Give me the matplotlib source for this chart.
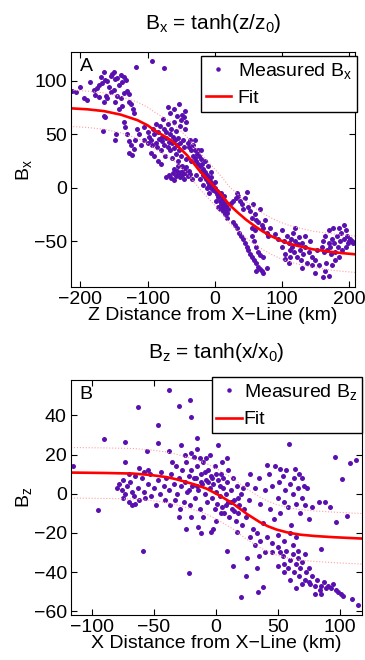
import numpy as np
import matplotlib
matplotlib.use('Agg')
import matplotlib.pyplot as plt

# ----------------------------------------------------------------------- >>>>>
#   data
# ----------------------------------------------------------------------- >>>>>

# panel A : measured Bx vs Z distance (km)
bx_points = [
    # upper left cluster
    (-212, 91), (-207, 90), (-200, 94), (-195, 84), (-190, 82), (-185, 99), (-180, 92),
    (-176, 93), (-172, 96), (-170, 104), (-168, 98), (-165, 108), (-163, 101), (-160, 100),
    (-158, 94), (-155, 105), (-153, 107), (-150, 108), (-148, 102), (-145, 103), (-143, 96),
    (-140, 106), (-138, 99), (-135, 104), (-132, 101), (-130, 91), (-128, 88), (-172, 85),
    (-162, 86), (-155, 90), (-150, 92), (-146, 86), (-140, 84), (-135, 89), (-128, 80),
    (-125, 78), (-122, 74), (-120, 70), (-138, 77), (-142, 74), (-148, 80), (-160, 84),
    (-165, 80), (-178, 87), (-93, 119), (-75, 112), (-117, 113),
    (-165, 67), (-164, 66), (-167, 53), (-147, 50), (-148, 45), (-135, 62), (-133, 57),
    (-130, 50), (-128, 44), (-125, 40), (-127, 33), (-123, 31), (-120, 36), (-118, 45),
    (-115, 55), (-112, 50), (-110, 40), (-105, 57), (-100, 52),
    # dense cluster
    (-98, 48), (-95, 45), (-93, 40), (-92, 55), (-90, 50), (-88, 42), (-86, 38), (-85, 52),
    (-83, 46), (-82, 58), (-80, 35), (-79, 48), (-78, 44), (-76, 55), (-75, 40), (-74, 30),
    (-73, 52), (-72, 47), (-70, 38), (-69, 60), (-68, 43), (-67, 50), (-66, 35), (-65, 55),
    (-64, 42), (-63, 28), (-62, 48), (-61, 37), (-60, 62), (-59, 45), (-58, 32), (-57, 53),
    (-56, 40), (-55, 25), (-54, 47), (-53, 35), (-52, 58), (-51, 42), (-50, 30), (-49, 68),
    (-48, 20), (-47, 45), (-46, 66), (-45, 38), (-44, 55), (-43, 27), (-90, 30), (-85, 25),
    (-80, 22), (-95, 33), (-100, 42), (-105, 45), (-88, 60), (-77, 64), (-70, 76), (-66, 70),
    (-60, 74), (-56, 67), (-53, 78), (-50, 63), (-44, 72), (-42, 62),
    (-68, 12), (-65, 9), (-62, 14), (-60, 18), (-58, 11), (-56, 16), (-54, 13), (-52, 10),
    (-50, 15), (-48, 12), (-46, 17), (-44, 14), (-42, 19), (-40, 11), (-38, 16), (-36, 13),
    (-34, 8), (-60, 7), (-72, 10), (-55, 20), (-45, 8),
    # steep band through the centre
    (-40, 42), (-38, 38), (-36, 45), (-35, 35), (-33, 30), (-32, 40), (-30, 28), (-29, 35),
    (-28, 25), (-27, 32), (-25, 22), (-24, 30), (-22, 20), (-21, 27), (-20, 16), (-19, 22),
    (-18, 12), (-17, 18), (-15, 10), (-14, 15), (-13, 8), (-12, 12), (-10, 5), (-9, 9),
    (-8, 3), (-7, 6), (-5, 0), (-4, 4), (-3, -2), (-2, 2), (0, -3), (1, 0), (3, -6), (4, -3),
    (5, -9), (6, -5), (8, -12), (9, -8), (10, -15), (11, -11), (13, -18), (14, -14),
    (15, -21), (17, -17), (18, -24), (20, -20), (-25, 35), (-30, 45), (-35, 25), (-20, 35),
    (-15, 25), (-10, 20), (-5, 15), (-22, 8), (-18, 3), (-12, 0), (-8, -5), (-28, 12),
    (-6, 10), (0, 5), (2, -12), (5, -18), (8, -20), (12, -22), (16, -25), (19, -28),
    (10, -5), (14, -8),
    # right of centre
    (25, -14), (28, -12), (32, -10), (35, -8), (33, -5), (38, -12), (40, -15), (42, -20),
    (45, -10), (48, -4), (50, -18), (52, -22), (55, -28), (57, -15), (60, -25), (62, -30),
    (65, -32), (68, -20), (70, -35), (72, -38), (75, -30), (78, -42), (80, -45), (82, -38),
    (60, -40), (55, -38),
    (27, -32), (30, -35), (33, -38), (36, -42), (39, -45), (42, -48), (45, -52), (48, -55),
    (50, -58), (53, -62), (56, -65), (58, -68), (61, -70), (64, -74), (67, -76), (70, -78),
    (72, -80), (55, -45), (58, -50), (62, -55), (65, -60), (68, -63), (72, -65), (78, -75),
    (62, -78),
    (95, -48), (100, -55), (103, -50), (105, -62), (108, -45), (110, -52), (112, -58),
    (114, -48), (115, -55), (117, -42), (118, -60), (120, -50), (122, -65), (124, -53),
    (125, -46), (127, -58), (128, -68), (130, -52), (132, -62), (134, -55), (135, -45),
    (137, -70), (140, -60), (142, -50), (145, -65), (150, -68), (152, -58), (155, -72),
    (105, -67), (110, -70), (100, -40), (90, -43), (120, -38), (145, -72), (130, -75),
    (112, -65),
    (160, -55), (162, -50), (163, -60), (165, -45), (166, -70), (168, -58), (170, -40),
    (172, -55), (174, -62), (175, -48), (177, -38), (178, -52), (180, -60), (182, -45),
    (184, -55), (185, -65), (187, -50), (188, -42), (190, -58), (192, -35), (193, -48),
    (195, -55), (197, -45), (199, -52), (200, -50), (202, -48), (204, -50), (206, -52),
    (162, -84), (170, -83), (165, -78), (150, -80), (175, -72), (180, -68), (195, -40),
    (185, -38), (170, -52),
]

fit_z = [-215, -190, -165, -140, -115, -100, -90, -78, -65, -53, -41, -32, -23, -13, -3,
         10, 22, 35, 47, 60, 72, 85, 97, 110, 121, 135, 146, 160, 171, 190, 210]
fit_bx = [74.4, 73.5, 71.8, 68.5, 63.3, 58.5, 54, 49.5, 44.5, 37.8, 30.4, 23.5, 16.3, 9.5,
          2.8, -6.5, -16, -23.5, -30, -36, -41, -45.5, -49, -52, -54, -56, -57.6, -58.8,
          -59.8, -61.2, -62.3]
fit_bx_hi = [91.4, 90.5, 88.8, 85.5, 80.3, 75.5, 71, 66.5, 61.5, 54.8, 47.4, 40.5, 33.3,
             26.5, 19.8, 10.5, 1, -6.5, -13, -19, -24, -28.5, -32, -35, -37, -39, -40.6,
             -41.8, -42.8, -44.2, -45.3]
fit_bx_lo = [57.4, 56.5, 54.8, 51.5, 46.3, 41.5, 37, 32.5, 27.5, 20.8, 13.4, 6.5, -0.7,
             -7.5, -14.2, -23.5, -33, -40.5, -47, -53, -58, -62.5, -66, -69, -71, -73,
             -74.6, -75.8, -76.8, -78.2, -79.3]

# panel B : measured Bz vs X distance (km)
bz_points = [
    (-115, 14), (-90, 28), (-95, -8.5), (-73, 26.5), (-73, 16), (-63, 44.4), (-62, 13),
    (-59, -29), (-56, 22), (-46.5, 26), (-47, 35), (-37.6, 53), (-38, 22), (-30, 45),
    (-28, 25), (-21, 48), (-20, 39), (-21.5, -40.7), (-15.6, 28.7), (-13, 18.5),
    (-4.3, -19.7), (2, 24.8), (9.4, 18), (9.4, -29), (14, -36.8), (17.5, -19.7),
    (20.7, -53), (24.7, -41.9), (25.5, -33), (34, -50.4), (33.6, -38), (38, -47.5),
    (41, 14.5), (51.6, 12.8), (58.9, 25.6), (63.7, 12.8), (96, 18.8), (102, 7.7),
    (108, 15.7), (113, 17), (97, -14.5), (106, -11.5), (115, -56.8), (110, -54),
    # left cluster
    (-78, 5), (-76, 2), (-75, -2), (-73, 0), (-72, 4), (-70, -4), (-69, 6), (-68, 1),
    (-66, -1), (-65, -5), (-63, 3), (-62, -3), (-60, 8), (-58, 1), (-57, -2), (-55, 5),
    (-53, 10), (-52, -1), (-50, 3), (-48, -6), (-47, 7), (-45, 0), (-44, 11), (-42, 4),
    (-41, -3), (-40, 8), (-70, 10), (-65, 9), (-58, 11), (-75, 7), (-80, 3), (-68, -6),
    (-55, 12),
    # central cluster
    (-38, 2), (-37, -6), (-36, 10), (-35, 16), (-34, 5), (-33, -3), (-32, 14), (-31, 0),
    (-30, 8), (-29, -8), (-28, 4), (-27, 12), (-26, -4), (-25, 6), (-24, 16), (-23, 1),
    (-22, 9), (-21, -6), (-20, 12), (-19, 4), (-18, 19), (-17, -2), (-16, 8), (-15, 14),
    (-14, 2), (-13, -8), (-12, 10), (-11, 5), (-10, 16), (-9, 0), (-8, 7), (-7, -4),
    (-6, 12), (-5, 3), (-4, 9), (-3, -2), (-2, 5), (-1, 14), (0, 1), (1, -5), (2, 7),
    (3, -1), (4, 10), (5, -7), (6, 3), (7, -10), (8, 0), (9, 6), (10, -4), (11, -12),
    (12, 2), (13, -8), (14, 8), (15, -3), (16, -14), (17, 4), (18, -10), (19, -6), (20, 0),
    (21, -16), (22, 3), (23, -8), (24, -12), (-20, -12), (-10, -12), (0, -14), (-30, -12),
    (-24, -18), (-14, -17), (5, 16), (10, 12), (-5, 20), (-8, 18), (-15, 23), (-20, 21),
    (-25, 20), (-12, -20), (-2, -18),
    (-6, 6), (-3, 8), (0, 10), (3, 4), (6, 8), (-9, 11), (-12, 6), (-15, 4), (8, -6),
    (12, -4), (15, -9), (18, -2), (-1, -8), (4, -10), (-18, 8), (-22, 2),
    # middle right
    (25, 5), (27, -3), (28, 10), (30, -18), (32, 3), (33, -20), (35, 8), (36, -5),
    (38, -15), (40, 2), (41, -22), (43, 10), (44, -8), (45, 4), (47, -13), (48, 14),
    (50, -2), (51, 6), (52, -10), (54, 9), (55, -4), (56, 2), (57, 12), (58, -7), (60, 5),
    (61, -16), (62, 0), (63, 8), (65, -5), (66, 3), (67, 10), (68, -10), (70, -2), (71, 4),
    (72, -6), (74, 3), (75, -13), (60, -20), (50, -21), (45, -25), (55, -24), (65, -22),
    (70, 8), (78, -7), (83, -4), (85, -28), (88, -4), (92, -7),
    # lower band
    (50, -27), (52, -30), (54, -32), (55, -36), (57, -29), (58, -38), (60, -34), (62, -31),
    (63, -40), (65, -36), (66, -33), (67, -42), (68, -38), (70, -35), (72, -44), (73, -40),
    (75, -38), (76, -46), (78, -42), (80, -47), (82, -44), (84, -49), (85, -51), (87, -45),
    (89, -48), (91, -47), (93, -48), (95, -46), (97, -49), (99, -50), (101, -51),
    (103, -52), (55, -40), (60, -44), (65, -48), (70, -46), (75, -45), (80, -51), (85, -47),
    (50, -37), (45, -30), (62, -26), (66, -29), (72, -31), (28, -22), (32, -26), (36, -24),
    (40, -30), (35, -32),
]

fit_x = [-117, -90, -67, -53, -40, -32, -24, -16, -7.5, 3, 14, 25, 35.5, 42, 49, 58, 68,
         80, 95, 118]
fit_bz = [10.8, 10.6, 10.3, 9.6, 8.5, 7.4, 6, 4.5, 2.6, -0.9, -5.1, -10.3, -14.5, -16.6,
          -18.3, -19.8, -20.9, -21.6, -22.2, -22.9]
fit_bz_hi = [23.6, 23.4, 23.1, 22.4, 21.3, 20.2, 18.8, 17.3, 15.4, 11.9, 7.7, 2.5, -1.7,
             -3.8, -5.5, -7, -8.1, -8.8, -9.4, -10.1]
fit_bz_lo = [-2.2, -2.4, -2.7, -3.4, -4.5, -5.6, -7, -8.5, -10.4, -13.9, -18.1, -23.3,
             -27.5, -29.6, -31.3, -32.8, -33.9, -34.6, -35.2, -35.9]

# ----------------------------------------------------------------------- >>>>>
#   plotting
# ----------------------------------------------------------------------- >>>>>

plt.rcParams['font.family'] = ['Liberation Sans', 'DejaVu Sans']
plt.rcParams['mathtext.default'] = 'regular'
plt.rcParams['font.size'] = 14

FS = 14
dot_col = '#5a10b0'
fit_col = '#ff0000'
band_col = '#ffa0a0'

def panel(ax, pts, fx, fy, fhi, flo, sub):
    pts = np.array(pts).T
    ax.plot(pts[0], pts[1], 'o', ms=3.6, color=dot_col, mec='none',
            label='Measured B$_{%s}$' % sub)
    ax.plot(fx, fy, '-', color=fit_col, lw=1.9, label='Fit')
    ax.plot(fx, fhi, ':', color=band_col, lw=0.8)
    ax.plot(fx, flo, ':', color=band_col, lw=0.8)
    ax.tick_params(direction='in', top=True, right=True, length=4, labelsize=FS, pad=3)
    ax.set_ylabel('B$_{%s}$' % sub, fontsize=FS, labelpad=0)

def legend(ax, anchor, tpad):
    leg = ax.legend(loc='upper right', bbox_to_anchor=anchor, fontsize=FS,
                    fancybox=False, edgecolor='black', framealpha=1, borderpad=0.25,
                    handlelength=1.3, handletextpad=tpad, labelspacing=0.45,
                    markerscale=0.9, borderaxespad=0)
    leg.get_frame().set_linewidth(1.0)


fig = plt.figure(figsize=(3.65, 6.6), dpi=100)

ax1 = fig.add_axes([0.1945, 0.565, 0.778, 0.356])
panel(ax1, bx_points, fit_z, fit_bx, fit_bx_hi, fit_bx_lo, 'x')
ax1.set_xlim(-214, 209)
ax1.set_ylim(-93, 127)
ax1.set_xticks([-200, -100, 0, 100, 200])
ax1.set_yticks([-50, 0, 50, 100])
ax1.set_xlabel('Z Distance from X\u2212Line (km)', fontsize=FS, labelpad=-1)
ax1.set_title('B$_x$ = tanh(z/z$_0$)', fontsize=15, pad=17)
ax1.text(0.03, 0.975, 'A', transform=ax1.transAxes, ha='left', va='top', fontsize=FS)
legend(ax1, (1.006, 0.985), 0.35)

ax2 = fig.add_axes([0.1945, 0.068, 0.797, 0.356])
panel(ax2, bz_points, fit_x, fit_bz, fit_bz_hi, fit_bz_lo, 'z')
ax2.set_xlim(-117, 118)
ax2.set_ylim(-62, 58)
ax2.set_xticks([-100, -50, 0, 50, 100])
ax2.set_yticks([-60, -40, -20, 0, 20, 40])
ax2.set_xlabel('X Distance from X\u2212Line (km)', fontsize=FS, labelpad=-1)
ax2.set_title('B$_z$ = tanh(x/x$_0$)', fontsize=15, pad=16)
ax2.text(0.03, 0.975, 'B', transform=ax2.transAxes, ha='left', va='top', fontsize=FS)
legend(ax2, (1.0, 1.013), 0.1)

fig.savefig('out.png', dpi=100)
